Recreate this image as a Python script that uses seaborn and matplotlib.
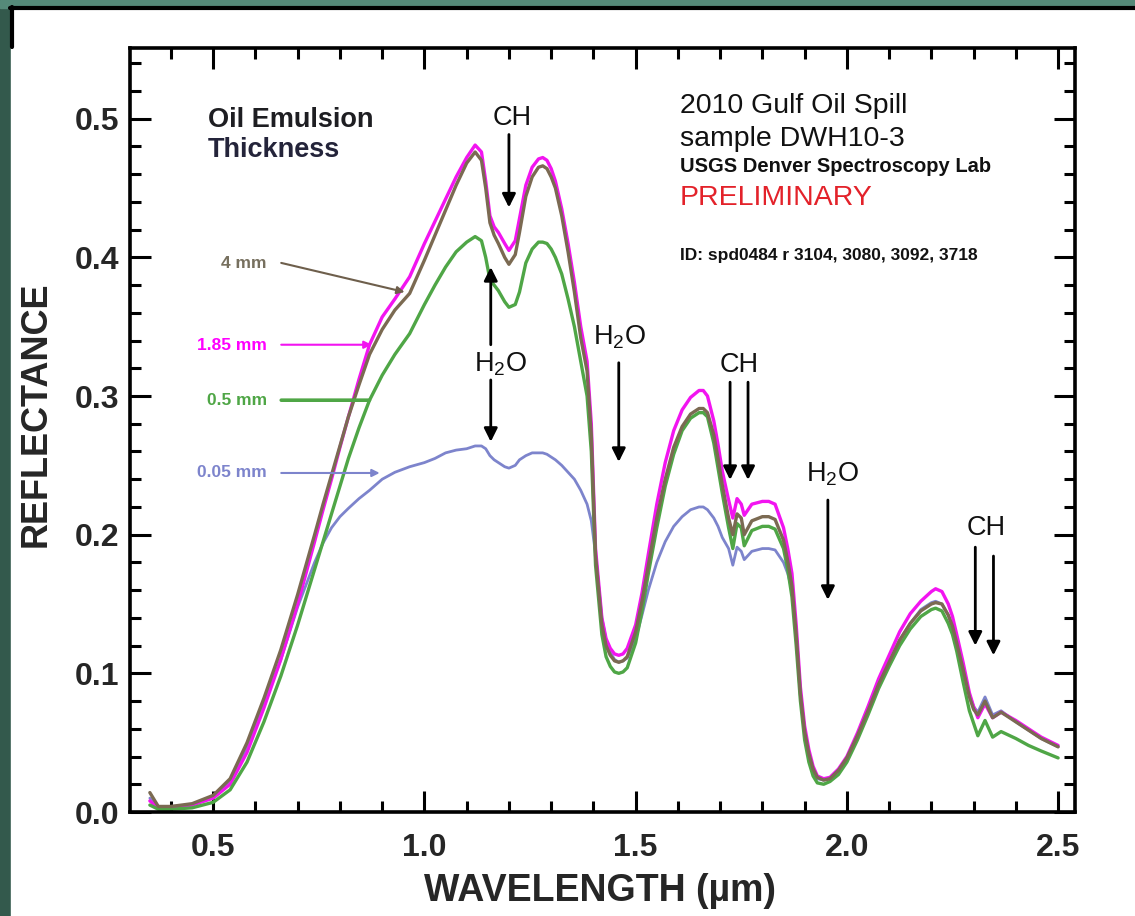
import pandas as pd
import seaborn as sns
import matplotlib
matplotlib.use("Agg")
from matplotlib import pyplot as plt
from matplotlib.patches import Rectangle
from matplotlib.lines import Line2D
from matplotlib.ticker import MultipleLocator, FormatStrFormatter

# wavelength grid (micrometres)
wavelength = [0.35, 0.37, 0.40, 0.45, 0.50, 0.54, 0.58, 0.62, 0.66, 0.70,
              0.74, 0.76, 0.78, 0.80, 0.82, 0.845, 0.87, 0.90, 0.93, 0.965,
              1.00, 1.025, 1.05, 1.075, 1.10, 1.12, 1.135, 1.145, 1.155, 1.165,
              1.175, 1.19, 1.20, 1.215, 1.225, 1.24, 1.255, 1.27, 1.28, 1.29,
              1.30, 1.31, 1.325, 1.34, 1.355, 1.37, 1.385, 1.395, 1.405, 1.42,
              1.43, 1.44, 1.45, 1.46, 1.47, 1.48, 1.50, 1.515, 1.53, 1.55,
              1.57, 1.59, 1.61, 1.63, 1.65, 1.66, 1.67, 1.685, 1.695, 1.705,
              1.72, 1.73, 1.74, 1.75, 1.757, 1.775, 1.80, 1.815, 1.83, 1.85,
              1.86, 1.87, 1.88, 1.89, 1.90, 1.91, 1.92, 1.93, 1.945, 1.96,
              1.98, 2.00, 2.025, 2.05, 2.075, 2.10, 2.125, 2.15, 2.175, 2.20,
              2.21, 2.225, 2.24, 2.25, 2.26, 2.275, 2.29, 2.30, 2.31, 2.327,
              2.345, 2.365, 2.40, 2.43, 2.46, 2.50]

refl_4mm = [0.014, 0.004, 0.004, 0.006, 0.012, 0.024, 0.050, 0.082, 0.117, 0.157,
            0.200, 0.222, 0.243, 0.264, 0.285, 0.308, 0.330, 0.348, 0.362, 0.374,
            0.398, 0.416, 0.434, 0.452, 0.468, 0.476, 0.470, 0.450, 0.425, 0.416,
            0.410, 0.400, 0.395, 0.402, 0.418, 0.444, 0.458, 0.465, 0.466, 0.464,
            0.458, 0.450, 0.430, 0.404, 0.375, 0.342, 0.318, 0.272, 0.185, 0.135,
            0.120, 0.113, 0.109, 0.108, 0.109, 0.112, 0.130, 0.152, 0.178, 0.212,
            0.240, 0.263, 0.278, 0.287, 0.291, 0.291, 0.288, 0.272, 0.255, 0.236,
            0.212, 0.200, 0.215, 0.212, 0.200, 0.210, 0.213, 0.213, 0.211, 0.196,
            0.181, 0.163, 0.128, 0.085, 0.058, 0.042, 0.031, 0.025, 0.023, 0.024,
            0.030, 0.039, 0.055, 0.073, 0.092, 0.108, 0.124, 0.136, 0.145, 0.150,
            0.151, 0.150, 0.142, 0.134, 0.122, 0.103, 0.083, 0.074, 0.070, 0.080,
            0.068, 0.072, 0.065, 0.059, 0.053, 0.047]

refl_185mm = [0.008, 0.003, 0.003, 0.005, 0.010, 0.020, 0.043, 0.075, 0.110, 0.150,
              0.195, 0.218, 0.240, 0.263, 0.285, 0.312, 0.337, 0.357, 0.370, 0.386,
              0.410, 0.426, 0.442, 0.458, 0.472, 0.481, 0.476, 0.455, 0.430, 0.422,
              0.418, 0.410, 0.405, 0.412, 0.428, 0.452, 0.465, 0.471, 0.472, 0.470,
              0.464, 0.455, 0.435, 0.410, 0.382, 0.350, 0.325, 0.280, 0.190, 0.140,
              0.125, 0.118, 0.114, 0.113, 0.114, 0.118, 0.135, 0.158, 0.186, 0.222,
              0.252, 0.275, 0.290, 0.299, 0.304, 0.304, 0.300, 0.282, 0.265, 0.246,
              0.225, 0.212, 0.226, 0.222, 0.214, 0.222, 0.224, 0.224, 0.222, 0.205,
              0.190, 0.172, 0.135, 0.090, 0.062, 0.045, 0.033, 0.026, 0.024, 0.025,
              0.031, 0.040, 0.057, 0.076, 0.096, 0.113, 0.130, 0.143, 0.152, 0.159,
              0.161, 0.159, 0.150, 0.141, 0.128, 0.108, 0.086, 0.076, 0.068, 0.078,
              0.068, 0.072, 0.066, 0.060, 0.054, 0.048]

refl_05mm = [0.005, 0.002, 0.002, 0.003, 0.007, 0.016, 0.036, 0.065, 0.098, 0.135,
             0.175, 0.195, 0.215, 0.235, 0.255, 0.277, 0.297, 0.315, 0.330, 0.345,
             0.366, 0.380, 0.393, 0.404, 0.411, 0.415, 0.412, 0.400, 0.384, 0.380,
             0.376, 0.368, 0.364, 0.366, 0.375, 0.396, 0.406, 0.411, 0.411, 0.410,
             0.406, 0.400, 0.388, 0.370, 0.350, 0.325, 0.300, 0.260, 0.178, 0.128,
             0.112, 0.105, 0.101, 0.100, 0.101, 0.104, 0.122, 0.145, 0.172, 0.205,
             0.235, 0.258, 0.275, 0.284, 0.288, 0.288, 0.285, 0.266, 0.248, 0.230,
             0.205, 0.190, 0.208, 0.205, 0.192, 0.203, 0.206, 0.206, 0.204, 0.190,
             0.175, 0.155, 0.120, 0.080, 0.052, 0.036, 0.026, 0.021, 0.020, 0.022,
             0.027, 0.036, 0.052, 0.070, 0.089, 0.105, 0.120, 0.132, 0.141, 0.146,
             0.147, 0.145, 0.136, 0.128, 0.116, 0.094, 0.073, 0.064, 0.055, 0.066,
             0.054, 0.058, 0.053, 0.048, 0.044, 0.039]

refl_005mm = [0.010, 0.004, 0.004, 0.005, 0.011, 0.022, 0.047, 0.078, 0.110, 0.148,
              0.180, 0.194, 0.205, 0.213, 0.219, 0.226, 0.232, 0.240, 0.245, 0.249,
              0.252, 0.255, 0.259, 0.261, 0.262, 0.264, 0.264, 0.262, 0.257, 0.254,
              0.252, 0.249, 0.248, 0.250, 0.254, 0.257, 0.259, 0.259, 0.259, 0.258,
              0.256, 0.254, 0.250, 0.245, 0.240, 0.232, 0.222, 0.210, 0.186, 0.140,
              0.124, 0.115, 0.110, 0.108, 0.109, 0.111, 0.125, 0.142, 0.160, 0.180,
              0.195, 0.206, 0.213, 0.218, 0.220, 0.220, 0.218, 0.212, 0.206, 0.198,
              0.190, 0.178, 0.191, 0.188, 0.182, 0.188, 0.190, 0.190, 0.189, 0.180,
              0.172, 0.160, 0.125, 0.085, 0.058, 0.040, 0.030, 0.024, 0.023, 0.024,
              0.030, 0.039, 0.055, 0.073, 0.092, 0.108, 0.124, 0.136, 0.146, 0.151,
              0.152, 0.150, 0.142, 0.133, 0.122, 0.103, 0.085, 0.076, 0.072, 0.083,
              0.070, 0.073, 0.065, 0.059, 0.053, 0.047]

thickness_order = ["0.05 mm", "1.85 mm", "0.5 mm", "4 mm"]
colors = {"4 mm": "#7b6a52", "1.85 mm": "#f214f0", "0.5 mm": "#4fa646", "0.05 mm": "#7d84cc"}
label_colors = {"4 mm": "#77705f", "1.85 mm": "#ff00ff", "0.5 mm": "#4fa646", "0.05 mm": "#7d84cc"}

df = pd.concat([
    pd.DataFrame({"wavelength": wavelength, "reflectance": r, "thickness": t})
    for t, r in [("4 mm", refl_4mm), ("1.85 mm", refl_185mm),
                 ("0.5 mm", refl_05mm), ("0.05 mm", refl_005mm)]
])

sns.set_theme(style="ticks")
plt.rcParams["font.family"] = ["Liberation Sans", "DejaVu Sans"]

W, H = 1135, 916
fig = plt.figure(figsize=(W / 100, H / 100), dpi=100, facecolor="#33594c")

# slide-like frame round the plot
fig.add_artist(Rectangle((0, 1 - 8 / H), 1, 8 / H, transform=fig.transFigure,
                         color="#558a79", zorder=-3))
fig.add_artist(Rectangle((11 / W, 0), 1, 1 - 9 / H, transform=fig.transFigure,
                         color="white", zorder=-2))
fig.add_artist(Line2D([10 / W, 1], [1 - 8 / H] * 2, transform=fig.transFigure,
                      color="black", lw=3, zorder=-1))
fig.add_artist(Line2D([12 / W] * 2, [1 - 7 / H, 1 - 47 / H], transform=fig.transFigure,
                      color="black", lw=3, zorder=-1))

ax = fig.add_axes([130 / W, 1 - 812 / H, 945 / W, 764 / H])
ax.set_facecolor("white")

sns.lineplot(data=df, x="wavelength", y="reflectance", hue="thickness",
             hue_order=thickness_order, palette=colors, linewidth=2.4,
             legend=False, sort=False, estimator=None, ax=ax)
ax.lines[0].set_linewidth(2.0)  # the thin 0.05 mm curve

ax.set_xlim(0.303, 2.54)
ax.set_ylim(0, 0.551)
ax.xaxis.set_major_locator(MultipleLocator(0.5))
ax.xaxis.set_minor_locator(MultipleLocator(0.1))
ax.yaxis.set_major_locator(MultipleLocator(0.1))
ax.yaxis.set_minor_locator(MultipleLocator(0.02))
ax.xaxis.set_major_formatter(FormatStrFormatter("%.1f"))
ax.yaxis.set_major_formatter(FormatStrFormatter("%.1f"))
ax.tick_params(which="both", direction="in", top=True, right=True,
               width=2.2, color="black")
ax.tick_params(which="major", length=15, labelsize=23)
ax.tick_params(which="minor", length=8)
ax.tick_params(axis="x", which="major", pad=15)
ax.tick_params(axis="y", which="major", pad=8)
for lab in ax.get_xticklabels() + ax.get_yticklabels():
    lab.set_fontweight("bold")
for sp in ax.spines.values():
    sp.set_linewidth(2.6)
    sp.set_color("black")

ax.set_xlabel("WAVELENGTH (µm)", fontsize=27, fontweight="bold")
ax.set_ylabel("REFLECTANCE", fontsize=26, fontweight="bold")
ax.xaxis.set_label_coords(0.497, -0.080)
ax.yaxis.set_label_coords(-0.081, 0.52)

# header texts
ax.text(0.0825, 0.897, "Oil Emulsion", transform=ax.transAxes, fontsize=19.5,
        fontweight="bold", color="#1e1e22", va="baseline")
ax.text(0.0825, 0.857, "Thickness", transform=ax.transAxes, fontsize=19.5,
        fontweight="bold", color="#24243a", va="baseline")
ax.text(0.582, 0.915, "2010 Gulf Oil Spill", transform=ax.transAxes, fontsize=20.5,
        color="#111111", va="baseline")
ax.text(0.582, 0.872, "sample DWH10-3", transform=ax.transAxes, fontsize=20.5,
        color="#111111", va="baseline")
ax.text(0.582, 0.838, "USGS Denver Spectroscopy Lab", transform=ax.transAxes,
        fontsize=14.5, fontweight="bold", color="#111111", va="baseline")
ax.text(0.582, 0.7945, "PRELIMINARY", transform=ax.transAxes, fontsize=20.5,
        color="#e3222a", va="baseline")
ax.text(0.582, 0.7225, "ID: spd0484 r 3104, 3080, 3092, 3718", transform=ax.transAxes,
        fontsize=12.5, fontweight="bold", color="#111111", va="baseline")

# thickness labels with leader lines
leaders = [("4 mm", 0.3926, (0.661, 0.396), (0.953, 0.375), 1.5, True),
           ("1.85 mm", 0.3334, (0.661, 0.337), (0.875, 0.337), 1.5, True),
           ("0.5 mm", 0.2936, (0.661, 0.297), (0.870, 0.297), 2.6, False),
           ("0.05 mm", 0.2413, (0.661, 0.2445), (0.894, 0.2445), 1.5, True)]
for name, base, tail, tip, lw, head in leaders:
    ax.text(0.627, base, name, fontsize=12.5, fontweight="bold",
            color=label_colors[name], ha="right", va="baseline")
    ax.annotate("", xy=tip, xytext=tail,
                arrowprops=dict(arrowstyle="-|>" if head else "-", lw=lw,
                                color=colors[name] if name != "4 mm" else "#6e5f4c",
                                mutation_scale=11, shrinkA=0, shrinkB=0))

# absorption feature arrows
band_labels = [("CH", 1.207, 0.4958), (r"$\mathregular{H_2O}$", 1.18, 0.3175),
               (r"$\mathregular{H_2O}$", 1.462, 0.337), ("CH", 1.745, 0.3175),
               (r"$\mathregular{H_2O}$", 1.967, 0.238), ("CH", 2.330, 0.1998)]
for txt, x, y in band_labels:
    ax.text(x, y, txt, fontsize=19.5, color="#111111", ha="center", va="baseline")

band_arrows = [(1.200, 0.4886, 0.436), (1.157, 0.337, 0.393), (1.157, 0.3116, 0.267),
               (1.460, 0.324, 0.2525), (1.7235, 0.310, 0.2395), (1.766, 0.310, 0.2395),
               (1.955, 0.225, 0.153), (2.304, 0.191, 0.120), (2.347, 0.1846, 0.113)]
for x, y0, y1 in band_arrows:
    ax.annotate("", xy=(x, y1), xytext=(x, y0),
                arrowprops=dict(arrowstyle="-|>", lw=2.0, color="black",
                                mutation_scale=20, shrinkA=0, shrinkB=0))

fig.savefig("out.png", dpi=100, facecolor=fig.get_facecolor())
